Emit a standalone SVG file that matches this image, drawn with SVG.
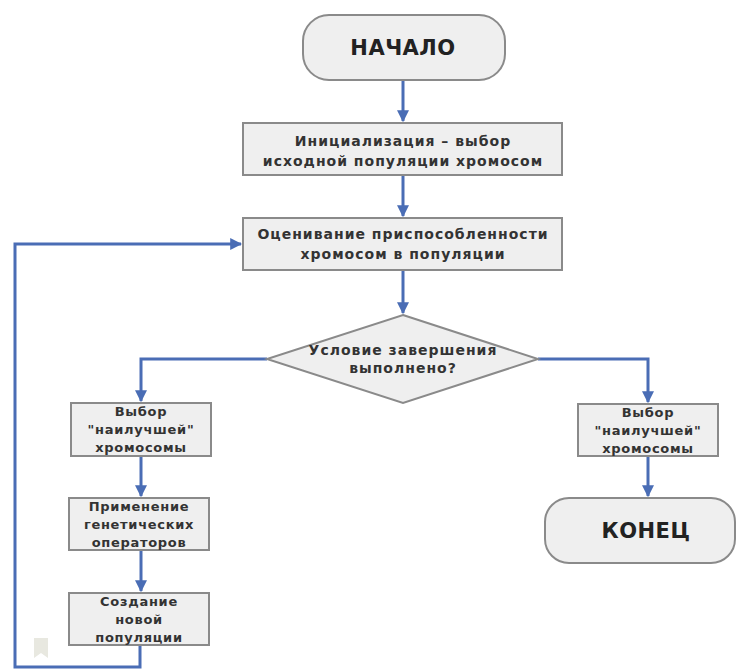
<svg xmlns="http://www.w3.org/2000/svg" width="737" height="669" viewBox="0 0 737 669">
<defs>
<style>
.box{fill:#efefef;stroke:#8a8a8a;stroke-width:2}
.t{font-family:"DejaVu Sans",sans-serif;font-weight:bold;fill:#333;text-anchor:middle}
.m{font-size:14px;letter-spacing:1px}
.s{font-size:13px;letter-spacing:0.7px}
.b{font-size:21px;letter-spacing:0.5px;fill:#222}
.c{fill:none;stroke:#4a6db5;stroke-width:3}
</style>
<marker id="ah" viewBox="0 0 10 10" refX="9" refY="5" markerWidth="4" markerHeight="4" orient="auto" markerUnits="strokeWidth">
<path d="M0,0 L10,5 L0,10 z" fill="#4a6db5"/>
</marker>
</defs>
<rect width="737" height="669" fill="#fff"/>
<g id="connectors">
<path class="c" d="M403,80 V121" marker-end="url(#ah)"/>
<path class="c" d="M403,175 V216" marker-end="url(#ah)"/>
<path class="c" d="M403,270 V313" marker-end="url(#ah)"/>
<path class="c" d="M267,359 H141 V401" marker-end="url(#ah)"/>
<path class="c" d="M141,456 V496" marker-end="url(#ah)"/>
<path class="c" d="M141,550 V591" marker-end="url(#ah)"/>
<path class="c" d="M140,645 V667 H15 V244 H241" marker-end="url(#ah)"/>
<path class="c" d="M538,359 H648 V402" marker-end="url(#ah)"/>
<path class="c" d="M648,456 V496" marker-end="url(#ah)"/>
</g>
<g id="start">
<rect class="box" x="303" y="15" width="202" height="65" rx="26"/>
<text class="t b" x="403" y="55">НАЧАЛО</text>
</g>
<g id="init">
<rect class="box" x="243" y="123" width="319" height="52"/>
<text class="t m" x="403" y="146">Инициализация – выбор</text>
<text class="t m" x="403" y="166">исходной популяции хромосом</text>
</g>
<g id="eval">
<rect class="box" x="243" y="218" width="319" height="52"/>
<text class="t m" x="403" y="239">Оценивание приспособленности</text>
<text class="t m" x="403" y="259">хромосом в популяции</text>
</g>
<g id="cond">
<polygon class="box" points="403,315 538,359 403,403 267,359"/>
<text class="t m" x="403" y="355">Условие завершения</text>
<text class="t m" x="403" y="373">выполнено?</text>
</g>
<g id="best-left">
<rect class="box" x="71" y="403" width="140" height="53"/>
<text class="t s" x="141" y="416">Выбор</text>
<text class="t s" x="141" y="434">"наилучшей"</text>
<text class="t s" x="141" y="452">хромосомы</text>
</g>
<g id="operators">
<rect class="box" x="69" y="498" width="140" height="52"/>
<text class="t s" x="139" y="511">Применение</text>
<text class="t s" x="139" y="529">генетических</text>
<text class="t s" x="139" y="547">операторов</text>
</g>
<g id="newpop">
<rect class="box" x="69" y="593" width="140" height="52"/>
<text class="t s" x="139" y="606">Создание</text>
<text class="t s" x="139" y="624">новой</text>
<text class="t s" x="139" y="642">популяции</text>
</g>
<g id="best-right">
<rect class="box" x="578" y="404" width="140" height="52"/>
<text class="t s" x="648" y="417">Выбор</text>
<text class="t s" x="648" y="435">"наилучшей"</text>
<text class="t s" x="648" y="453">хромосомы</text>
</g>
<g id="end">
<rect class="box" x="545" y="498" width="190" height="65" rx="24"/>
<text class="t b" x="646" y="538">КОНЕЦ</text>
</g>
<path d="M34,638 H48 V658 L41,653 L34,658 Z" fill="#e8e8e0"/>
</svg>
